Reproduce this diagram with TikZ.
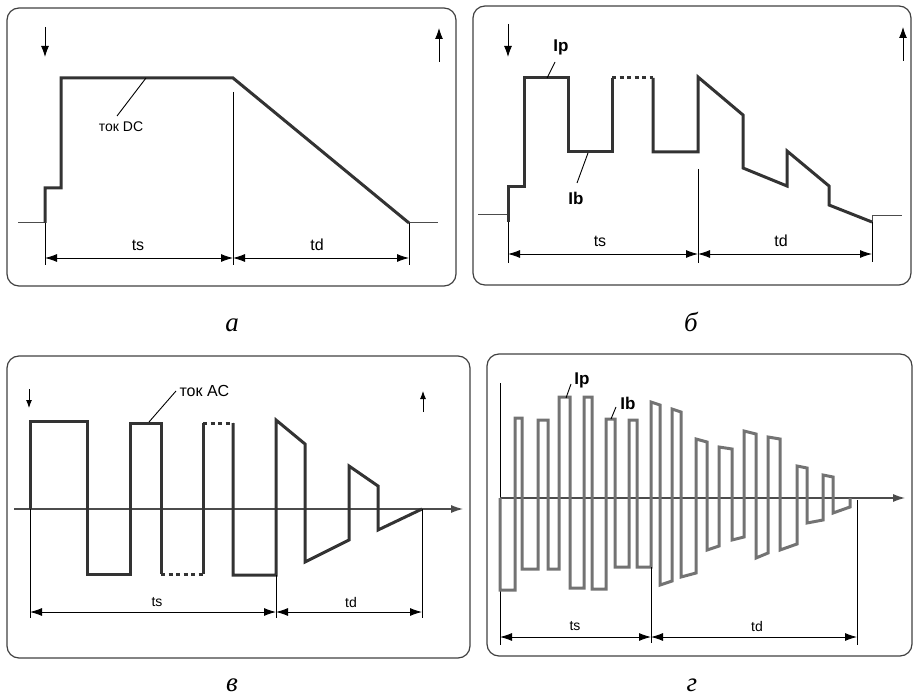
\documentclass[tikz,border=0pt]{standalone}
\usepackage{fontspec}
\setmainfont{Liberation Serif}
\setsansfont{Liberation Sans}
\usetikzlibrary{arrows.meta}

\begin{document}
\begin{tikzpicture}[x=1pt, y=-1pt, font=\sffamily,
    panel/.style={draw=black!75, line width=1.2pt, rounded corners=12pt},
    wave/.style={draw=black!80, line width=3pt, line join=miter},
    wavedot/.style={wave, dash pattern=on 4pt off 3.5pt},
    wavegr/.style={draw=black!55, line width=3pt, line join=miter},
    fine/.style={draw=black, line width=0.9pt},
    baseln/.style={draw=black!70, line width=1pt},
    dim/.style={fine, {Latex[length=12pt,width=8pt]}-{Latex[length=12pt,width=8pt]}},
    xaxis/.style={draw=black!70, line width=1.1pt, -{Latex[length=12pt,width=8pt]}},
    dirmark/.style={fine, -{Latex[length=11pt,width=8pt]}},
    dirsmall/.style={fine, -{Latex[length=8pt,width=6pt]}},
    lblbig/.style={font=\sffamily\fontsize{16}{16}\selectfont},
    lblsmall/.style={font=\sffamily\fontsize{14}{14}\selectfont},
    lblbold/.style={font=\sffamily\bfseries\fontsize{17}{17}\selectfont},
    capt/.style={anchor=base, font=\rmfamily\itshape\fontsize{27}{27}\selectfont}]

  \useasboundingbox (0,0) rectangle (914,698);

  %% Panel a: DC
  \draw[panel] (7,8) rectangle (456,286);
  \draw[dirmark] (45,27) -- (45,57);
  \draw[dirmark] (439,62) -- (439,28);
  \draw[baseln] (18,223) -- (45,223);
  \draw[baseln] (409,223) -- (438,223);
  \draw[wave] (45,223) -- (45,188) -- (61,188) -- (61,78) -- (233,78) -- (409,223);
  \coordinate (a0) at (45,258);
  \coordinate (a1) at (233,258);
  \coordinate (a2) at (409,258);
  \draw[fine] (45,223) -- (45,265);
  \draw[fine] (233,92) -- (233,265);
  \draw[fine] (409,223) -- (409,265);
  \draw[dim] (a0) -- (a1);
  \draw[dim] (a1) -- (a2);
  \node[lblbig] (ats) at (138,245) {ts};
  \node[lblbig] (atd) at (317,245) {td};
  \node[lblsmall] (adc) at (121,127) {ток DC};
  \coordinate (adcw) at (146,78);
  \draw[fine] (117,116) -- (adcw);
  \node[capt] (capa) at (232,331) {а};

  %% Panel b: pulsed DC
  \draw[panel] (473,6) rectangle (911,285);
  \draw[dirmark] (508,24) -- (508,57);
  \draw[dirmark] (903,61) -- (903,27);
  \draw[baseln] (478,215) -- (508,215);
  \draw[baseln] (872,222) -- (872,216) -- (902,216);
  \draw[wave] (508,222) -- (508,187) -- (524,187) -- (524,78) -- (568,78)
    -- (568,152) -- (612,152) -- (612,78);
  \draw[wavedot] (612,78) -- (653,78);
  \draw[wave] (653,78) -- (653,152) -- (698,152) -- (698,77) -- (743,115)
    -- (743,168) -- (787,186) -- (787,151) -- (829,186) -- (829,205) -- (872,222);
  \coordinate (b0) at (508,254);
  \coordinate (b1) at (698,254);
  \coordinate (b2) at (872,254);
  \draw[fine] (508,222) -- (508,263);
  \draw[fine] (698,169) -- (698,263);
  \draw[fine] (872,222) -- (872,262);
  \draw[dim] (b0) -- (b1);
  \draw[dim] (b1) -- (b2);
  \node[lblbig] (bts) at (600,241) {ts};
  \node[lblbig] (btd) at (781,241) {td};
  \node[lblbold] (bip) at (561,47) {Ip};
  \node[lblbold] (bib) at (576,198) {Ib};
  \draw[fine] (547,78) -- (555,62);
  \draw[fine] (588,153) -- (577,183);
  \node[capt] (capb) at (691,331) {б};

  %% Panel c: AC
  \draw[panel] (7,356) rectangle (470,658);
  \draw[xaxis] (14,509) -- (463,509);
  \draw[dirsmall] (29,389) -- (29,408);
  \draw[dirsmall] (423,412) -- (423,391);
  \draw[wave] (30,509) -- (30,421) -- (87,421) -- (87,574) -- (130,574)
    -- (130,423) -- (161,423) -- (161,574);
  \draw[wavedot] (161,574) -- (203,574);
  \draw[wave] (203,574) -- (203,423);
  \draw[wavedot] (203,423) -- (233,423);
  \draw[wave] (233,423) -- (233,575) -- (276,575) -- (276,420) -- (305,444)
    -- (305,562) -- (349,540) -- (349,466) -- (378,486) -- (378,530) -- (422,509);
  \coordinate (c0) at (30,612);
  \coordinate (c1) at (276,612);
  \coordinate (c2) at (422,612);
  \draw[fine] (30,509) -- (30,618);
  \draw[fine] (276,575) -- (276,618);
  \draw[fine] (422,509) -- (422,618);
  \draw[dim] (c0) -- (c1);
  \draw[dim] (c1) -- (c2);
  \node[lblsmall] (cts) at (157,602) {ts};
  \node[lblsmall] (ctd) at (351,602) {td};
  \node[lblbig, anchor=west] (cac) at (176,391) {ток AC};
  \draw[fine] (149,422) -- (cac.west);
  \node[capt] (capc) at (232,691) {в};

  %% Panel d: pulsed AC
  \draw[panel] (487,354) rectangle (912,656);
  \draw[fine] (500,383) -- (500,645);
  \draw[xaxis] (500,498) -- (905,498);
  \draw[wavegr] (500,498) -- (500,590) -- (515,590) -- (515,418) -- (522,418)
    -- (522,569) -- (538,569) -- (538,420) -- (548,420) -- (548,569)
    -- (559,569) -- (559,397) -- (570,397) -- (570,588) -- (584,588)
    -- (584,397) -- (592,397) -- (592,589) -- (606,589) -- (606,419)
    -- (615,419) -- (615,567) -- (629,567) -- (629,420) -- (637,420)
    -- (637,567) -- (651,567) -- (651,402) -- (660,405) -- (660,585)
    -- (672,581) -- (672,409) -- (681,412) -- (681,577) -- (696,573)
    -- (696,439) -- (707,442) -- (707,550) -- (719,546) -- (719,447)
    -- (732,449) -- (732,540) -- (744,537) -- (744,431) -- (756,434)
    -- (756,558) -- (768,553) -- (768,437) -- (780,439) -- (780,550)
    -- (797,544) -- (797,466) -- (807,468) -- (807,523) -- (823,520)
    -- (823,475) -- (833,477) -- (833,513) -- (850,507) -- (850,498);
  \coordinate (d0) at (500,637);
  \coordinate (d1) at (651,637);
  \coordinate (d2) at (857,637);
  \draw[fine] (651,567) -- (651,643);
  \draw[fine] (857,500) -- (857,645);
  \draw[dim] (d0) -- (d1);
  \draw[dim] (d1) -- (d2);
  \node[lblsmall] (dts) at (575,626) {ts};
  \node[lblsmall] (dtd) at (757,626) {td};
  \node[lblbold] (dip) at (582,380) {Ip};
  \node[lblbold] (dib) at (628,403) {Ib};
  \draw[fine] (566,398) -- (571,384);
  \draw[fine] (611,419) -- (616,407);
  \node[capt] (capd) at (692,691) {г};
\end{tikzpicture}
\end{document}
